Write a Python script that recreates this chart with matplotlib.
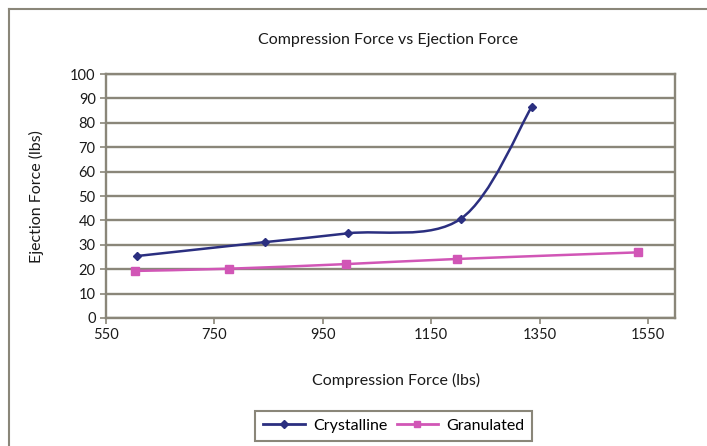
import numpy as np
import matplotlib.pyplot as plt
from matplotlib.path import Path
from matplotlib.patches import PathPatch
from matplotlib.lines import Line2D

plt.rcParams['font.family'] = ['Lato', 'DejaVu Sans']

# data
cryst_x = [607, 843, 996, 1204, 1335]
cryst_y = [25.4, 31.1, 34.7, 40.6, 86.4]
gran_x = [604, 776, 993, 1198, 1531]
gran_y = [19.3, 20.2, 22.1, 24.2, 26.9]
x_ticks = [550, 750, 950, 1150, 1350, 1550]
y_ticks = list(range(0, 101, 10))

grid_col = '#8a8679'
cryst_col = '#2b2f80'
gran_col = '#d156b6'


def smooth_path(xs, ys):
    # Excel-style smoothed line: cubic Bezier through every point
    p = np.column_stack([xs, ys]).astype(float)
    ext = np.vstack([p[0], p, p[-1]])
    verts = [p[0]]
    codes = [Path.MOVETO]
    for i in range(len(p) - 1):
        c1 = ext[i + 1] + (ext[i + 2] - ext[i]) / 6.0
        c2 = ext[i + 2] - (ext[i + 3] - ext[i + 1]) / 6.0
        verts += [c1, c2, p[i + 1]]
        codes += [Path.CURVE4] * 3
    return Path(verts, codes)


fig = plt.figure(figsize=(7.07, 4.46), dpi=100)
ax = fig.add_axes([0.150, 0.287, 0.805, 0.547])

ax.set_xlim(550, 1600)
ax.set_ylim(0, 100)
ax.set_xticks(x_ticks)
ax.set_yticks(y_ticks)
ax.grid(axis='y', color=grid_col, lw=1.7)
ax.set_axisbelow(True)
for s in ax.spines.values():
    s.set_color(grid_col)
    s.set_linewidth(1.7)
ax.tick_params(colors=grid_col, labelcolor='#1a1a1a', labelsize=10.5,
               length=4, width=1.2, direction='out')

for xs, ys, col, mk, ms, lab in [
        (cryst_x, cryst_y, cryst_col, 'D', 4, 'Crystalline'),
        (gran_x, gran_y, gran_col, 's', 6, 'Granulated')]:
    ax.add_patch(PathPatch(smooth_path(xs, ys), fc='none', ec=col, lw=1.8))
    ax.plot(xs, ys, ls='none', marker=mk, ms=ms, color=col)

fig.text(0.549, 0.91, 'Compression Force vs Ejection Force', ha='center',
         va='center', fontsize=11.5, color='#1a1a1a')
fig.text(0.052, 0.56, 'Ejection Force (lbs)', rotation=90, ha='center',
         va='center', fontsize=11.5, color='#1a1a1a')
fig.text(0.56, 0.148, 'Compression Force (lbs)', ha='center', va='center',
         fontsize=11.5, color='#1a1a1a')

handles = [Line2D([], [], color=cryst_col, lw=2, marker='D', ms=4),
           Line2D([], [], color=gran_col, lw=2, marker='s', ms=5)]
leg = fig.legend(handles, ['Crystalline', 'Granulated'], ncol=2,
                 loc='center', bbox_to_anchor=(0.557, 0.045), fontsize=11.5,
                 fancybox=False, framealpha=1, handlelength=2.6,
                 columnspacing=0.6, handletextpad=0.5, borderpad=0.5,
                 borderaxespad=0)
leg.get_frame().set_edgecolor(grid_col)
leg.get_frame().set_linewidth(1.5)

# outer chart frame (partly cropped in the reference)
fig.add_artist(Line2D([0.0127, 1.0], [0.980, 0.980], color=grid_col, lw=1.5))
fig.add_artist(Line2D([0.0127, 0.0127], [0.0, 0.980], color=grid_col, lw=1.5))

fig.savefig('out.png', dpi=100)
